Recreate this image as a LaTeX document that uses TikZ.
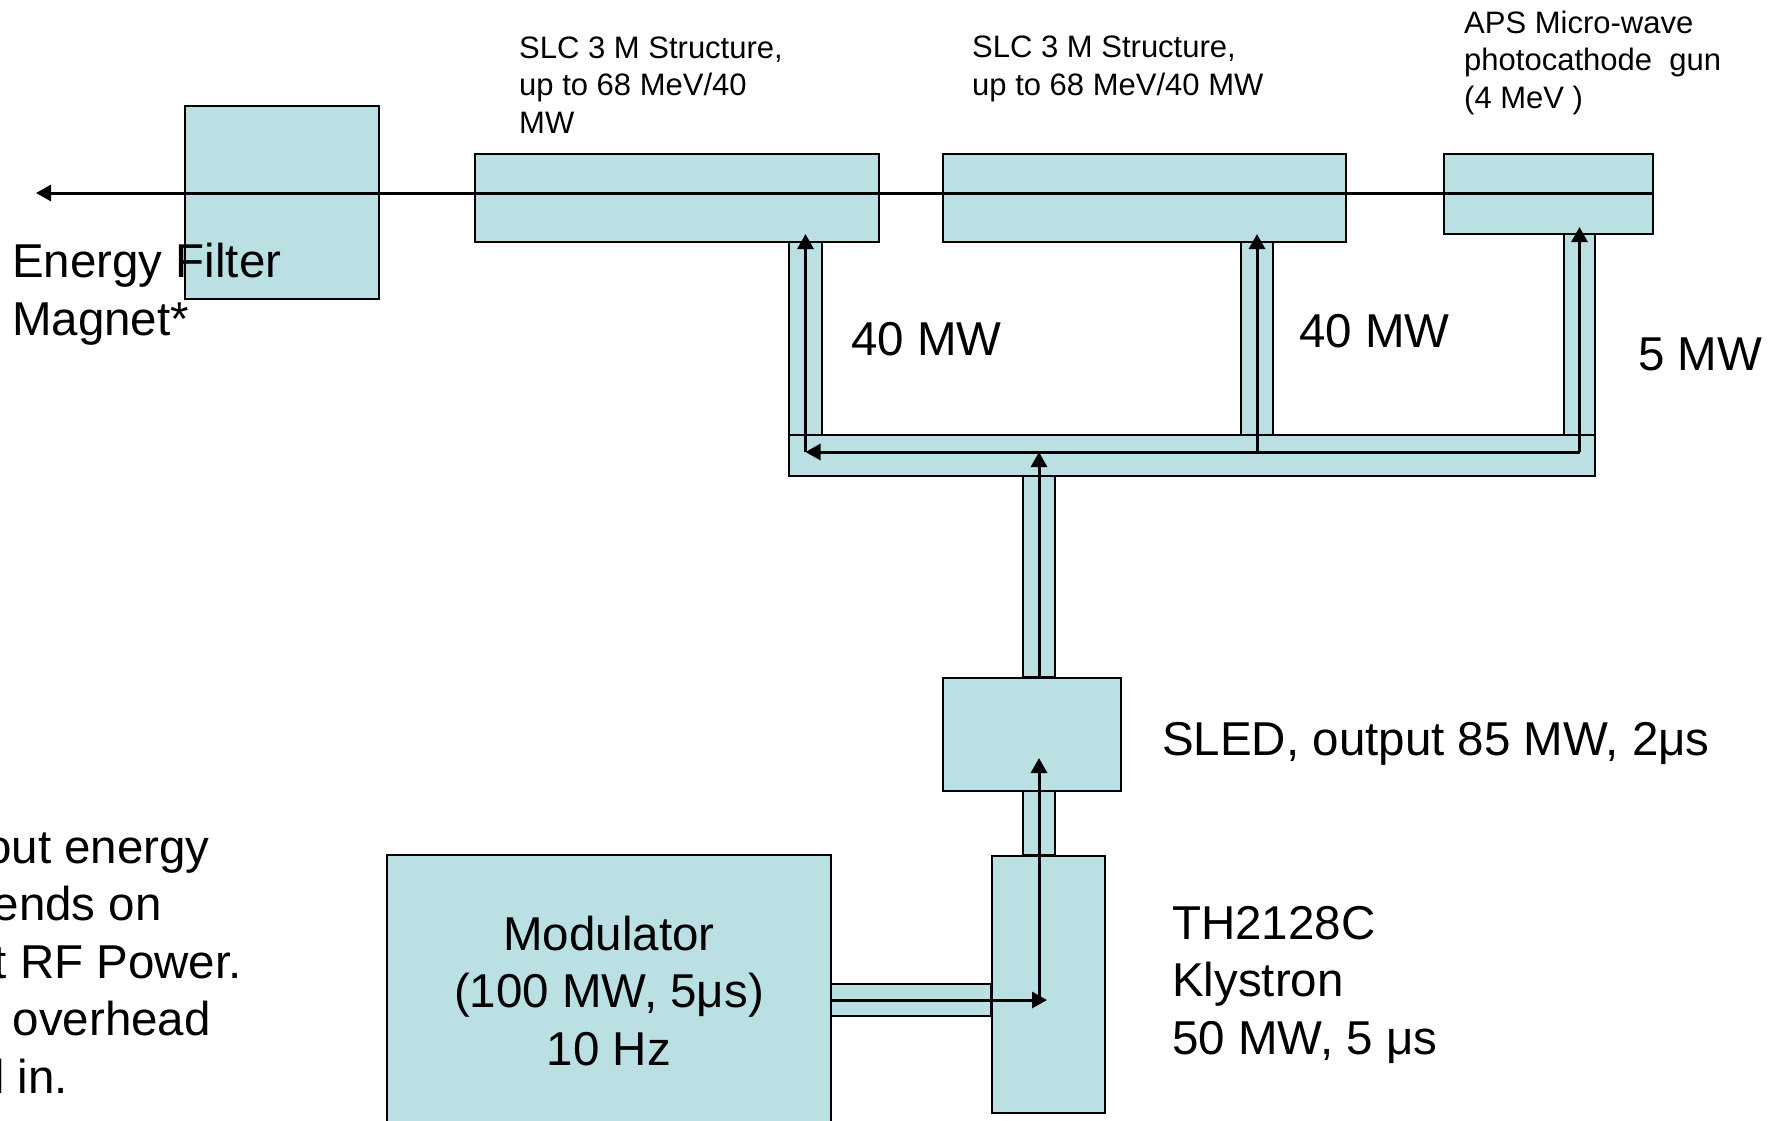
\documentclass[tikz,border=0pt]{standalone}
\usepackage{fontspec}
\setmainfont{Liberation Sans}
\usetikzlibrary{arrows.meta}
\definecolor{wg}{RGB}{187,224,227}
\begin{document}
\begin{tikzpicture}[x=1pt,y=-1pt,
  box/.style={draw=black, fill=wg, line width=2pt},
  blk/.style={box, rectangle, inner sep=0pt, anchor=north west},
  flow/.style={line width=3pt, -{Triangle[length=15pt,width=16pt]}},
  small/.style={font=\fontsize{31}{37.5}\selectfont, align=left, inner sep=0pt},
  big/.style={font=\fontsize{47.5}{57.5}\selectfont, align=left, inner sep=0pt}]
\useasboundingbox (0,0) rectangle (1774,1120);
\clip (0,0) rectangle (1774,1120);
\fill[white] (0,0) rectangle (1774,1120);

% waveguides
\draw[box] (789,241) rectangle (822,435);
\draw[box] (1241,241) rectangle (1273,435);
\draw[box] (1564,233) rectangle (1595,435);
\draw[box] (789,435) rectangle (1595,476);
\draw[box] (1023,476) rectangle (1055,677);
\draw[box] (1023,790) rectangle (1055,855);
\draw[box] (830,984) rectangle (991,1016);

% blocks
\node[blk, minimum width=194pt, minimum height=193pt] (magnet) at (184,105) {};
\node[blk, minimum width=404pt, minimum height=88pt] (slc1) at (474,153) {};
\node[blk, minimum width=403pt, minimum height=88pt] (slc2) at (942,153) {};
\node[blk, minimum width=209pt, minimum height=80pt] (gun) at (1443,153) {};
\node[blk, minimum width=178pt, minimum height=113pt] (sled) at (942,677) {};
\node[blk, minimum width=113pt, minimum height=257pt] (kly) at (991,855) {};
\node[blk, minimum width=444pt, minimum height=300pt] (mod) at (386,854) {};

% connector points
\coordinate (beamend) at (36,193);
\coordinate (gunout) at (1652,193);
\coordinate (c1) at (805.5,452);
\coordinate (c2) at (1257,452);
\coordinate (c3) at (1579.5,452);
\coordinate (c4) at (1039,452);
\coordinate (in1) at (805.5,234);
\coordinate (in2) at (1257,234);
\coordinate (in3) at (1579.5,227);
\coordinate (sledtop) at (1039,677);
\coordinate (sledin) at (1039,758);
\coordinate (klyc) at (1039,1000);
\coordinate (modout) at (830,1000);
\coordinate (klyin) at (1047,1000);

% beam line
\draw[flow] (gunout) -- (beamend);
% rf arrows
\draw[flow] (c3) -- (c1);
\draw[flow] (c1) -- (in1);
\draw[flow] (c2) -- (in2);
\draw[flow] (c3) -- (in3);
\draw[flow] (sledtop) -- (c4);
\draw[flow] (klyc) -- (sledin);
\draw[flow] (modout) -- (klyin);

% labels (base anchor = baseline of last line)
\node[small, anchor=base west] (t1) at (519,133) {SLC 3 M Structure,\\up to 68 MeV/40\\MW};
\node[small, anchor=base west] (t2) at (972,95) {SLC 3 M Structure,\\up to 68 MeV/40 MW};
\node[small, anchor=base west] (t3) at (1464,108) {APS Micro-wave\\photocathode~ gun\\(4 MeV )};
\node[big, anchor=base west] (ef) at (12,335) {Energy Filter\\Magnet*};
\node[big, anchor=base west] (p1) at (851,355) {40 MW};
\node[big, anchor=base west] (p2) at (1299,347) {40 MW};
\node[big, anchor=base west] (p3) at (1638,370) {5 MW};
\node[big, anchor=base west] (sl) at (1162,755) {SLED, output 85 MW, 2μs};
\node[big, anchor=base west] (kl) at (1172,1054) {TH2128C\\Klystron\\50 MW, 5 μs};
\node[big, align=center, anchor=base] (md) at (609,1065) {Modulator\\(100 MW, 5μs)\\10 Hz};
\node[big, anchor=base east] (n1) at (210,863) {out energy};
\node[big, anchor=base east] (n2) at (162,920) {ends on};
\node[big, anchor=base east] (n3) at (242,978) {t RF Power.};
\node[big, anchor=base east] (n4) at (211,1035) {overhead};
\node[big, anchor=base east] (n5) at (68,1093) {d in.};
\end{tikzpicture}
\end{document}
